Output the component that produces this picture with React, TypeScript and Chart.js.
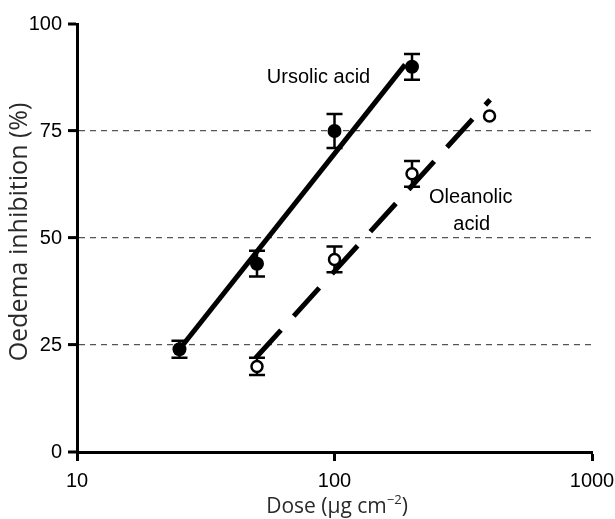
import React, { useEffect, useRef } from "react";
import { Chart, registerables } from "chart.js";

Chart.register(...registerables);

// ---- data ----
const ursolicDose = [25, 50, 100, 200];
const ursolicInhibition = [24, 44, 75, 90];
const ursolicError = [2, 3, 4, 3];

const oleanolicDose = [50, 100, 200, 400];
const oleanolicInhibition = [20, 45, 65, 78.5];
const oleanolicError = [2, 3, 3, 0];

const ursolicFitDose = [25, 188];
const ursolicFitInhibition = [24, 90.5];
const oleanolicFitDose = [49.3, 402];
const oleanolicFitInhibition = [21.9, 82.3];

const xTicks = [10, 100, 1000];
const yTicks = [0, 25, 50, 75, 100];
const gridValues = [25, 50, 75];

const xTitleMain = "Dose (\u03BCg cm";
const xTitleSup = "\u22122";
const xTitleEnd = ")";
const yTitle = "Oedema inhibition (%)";

const labelUrsolic = "Ursolic acid";
const labelOleanolic = ["Oleanolic", "acid"];

const toPoints = (xs: number[], ys: number[]) => xs.map((x, i) => ({ x, y: ys[i] }));

const errorBarPlugin = {
  id: "errorBars",
  beforeDatasetsDraw(chart: any) {
    const ctx = chart.ctx;
    const xs = chart.scales.x;
    const ys = chart.scales.y;
    const sets = [
      { d: ursolicDose, v: ursolicInhibition, e: ursolicError },
      { d: oleanolicDose, v: oleanolicInhibition, e: oleanolicError },
    ];
    ctx.save();
    ctx.strokeStyle = "#000";
    ctx.lineWidth = 2.5;
    sets.forEach(({ d, v, e }) => {
      d.forEach((dose, i) => {
        if (!e[i]) return;
        const px = xs.getPixelForValue(dose);
        const top = ys.getPixelForValue(v[i] + e[i]);
        const bot = ys.getPixelForValue(v[i] - e[i]);
        ctx.beginPath();
        ctx.moveTo(px, top);
        ctx.lineTo(px, bot);
        ctx.moveTo(px - 8, top);
        ctx.lineTo(px + 8, top);
        ctx.moveTo(px - 8, bot);
        ctx.lineTo(px + 8, bot);
        ctx.stroke();
      });
    });
    ctx.restore();
  },
};

const textPlugin = {
  id: "texts",
  afterDraw(chart: any) {
    const ctx = chart.ctx;
    const xs = chart.scales.x;
    const ys = chart.scales.y;
    ctx.save();
    // annotations
    ctx.fillStyle = "#000";
    ctx.font = '20px "Liberation Sans", Arial, sans-serif';
    ctx.textAlign = "center";
    ctx.textBaseline = "middle";
    ctx.fillText(labelUrsolic, xs.getPixelForValue(86.7), ys.getPixelForValue(87.5));
    ctx.fillText(labelOleanolic[0], xs.getPixelForValue(338), ys.getPixelForValue(59.5));
    ctx.fillText(labelOleanolic[1], xs.getPixelForValue(341), ys.getPixelForValue(53.2));

    // x title
    ctx.fillStyle = "#2a2a2a";
    const mainFont = '21px "Open Sans", sans-serif';
    const supFont = '13px "Open Sans", sans-serif';
    ctx.font = mainFont;
    const w1 = ctx.measureText(xTitleMain).width;
    const w3 = ctx.measureText(xTitleEnd).width;
    ctx.font = supFont;
    const w2 = ctx.measureText(xTitleSup).width;
    const total = w1 + w2 + w3;
    const cx = 337;
    const cy = 507;
    const x0 = cx - total / 2;
    ctx.textAlign = "left";
    ctx.textBaseline = "middle";
    ctx.font = mainFont;
    ctx.fillText(xTitleMain, x0, cy);
    ctx.font = supFont;
    ctx.fillText(xTitleSup, x0 + w1, cy - 7);
    ctx.font = mainFont;
    ctx.fillText(xTitleEnd, x0 + w1 + w2, cy);

    // y title
    ctx.font = '25px "Open Sans", sans-serif';
    ctx.translate(20, 232);
    ctx.rotate(-Math.PI / 2);
    ctx.textAlign = "center";
    ctx.fillText(yTitle, 0, 0);
    ctx.restore();
  },
};

export default function App() {
  const ref = useRef<HTMLCanvasElement | null>(null);
  useEffect(() => {
    if (!ref.current) return;
    const tickFont = { family: '"Liberation Sans", Arial, sans-serif', size: 20 };
    const chart = new Chart(ref.current, {
      type: "scatter",
      data: {
        datasets: [
          {
            label: "Ursolic acid",
            data: toPoints(ursolicDose, ursolicInhibition),
            pointRadius: 7,
            pointBackgroundColor: "#000",
            pointBorderColor: "#000",
            pointBorderWidth: 0,
            showLine: false,
          },
          {
            label: "Oleanolic acid",
            data: toPoints(oleanolicDose, oleanolicInhibition),
            pointRadius: 5.5,
            pointBackgroundColor: "#fff",
            pointBorderColor: "#000",
            pointBorderWidth: 2.5,
            showLine: false,
          },
          {
            label: "Ursolic fit",
            data: toPoints(ursolicFitDose, ursolicFitInhibition),
            showLine: true,
            pointRadius: 0,
            borderColor: "#000",
            borderWidth: 5,
            borderCapStyle: "butt",
          },
          {
            label: "Oleanolic fit",
            data: toPoints(oleanolicFitDose, oleanolicFitInhibition),
            showLine: true,
            pointRadius: 0,
            borderColor: "#000",
            borderWidth: 5,
            borderDash: [38, 19],
            borderCapStyle: "butt",
          },
        ],
      },
      options: {
        animation: false,
        responsive: false,
        events: [],
        layout: { padding: { top: 24, right: 23, left: 0, bottom: 0 } },
        plugins: { legend: { display: false }, tooltip: { enabled: false } },
        scales: {
          x: {
            type: "logarithmic",
            min: 10,
            max: 1000,
            afterBuildTicks: (s: any) => {
              s.ticks = xTicks.map((v) => ({ value: v }));
            },
            afterFit: (s: any) => {
              s.height = 67;
              s.paddingLeft = 0;
              s.paddingRight = 0;
            },
            ticks: {
              callback: (v: any) => String(v),
              font: tickFont,
              color: "#000",
              padding: 8,
              autoSkip: false,
              maxRotation: 0,
            },
            grid: {
              drawOnChartArea: false,
              drawTicks: true,
              tickLength: 9,
              tickWidth: 3,
              tickColor: "#000",
            },
            border: { display: true, width: 3, color: "#000" },
          },
          y: {
            type: "linear",
            min: 0,
            max: 100,
            afterBuildTicks: (s: any) => {
              s.ticks = yTicks.map((v) => ({ value: v }));
            },
            afterFit: (s: any) => {
              s.width = 77;
              s.paddingTop = 0;
              s.paddingBottom = 0;
            },
            ticks: {
              font: tickFont,
              color: "#000",
              padding: 6,
            },
            grid: {
              drawTicks: true,
              tickLength: 9,
              tickWidth: 3,
              tickColor: "#000",
              color: "#555",
              lineWidth: (c: any) => (c.tick && gridValues.includes(c.tick.value) ? 1.2 : 0),
            },
            border: { display: true, width: 3, color: "#000", dash: [6, 5] },
          },
        },
      },
      plugins: [errorBarPlugin, textPlugin],
    } as any);
    return () => chart.destroy();
  }, []);
  return (
    <div style={{ position: "absolute", left: 0, top: 0, width: 615, height: 519, background: "#fff" }}>
      <canvas ref={ref} width={615} height={519} style={{ display: "block" }} />
    </div>
  );
}
